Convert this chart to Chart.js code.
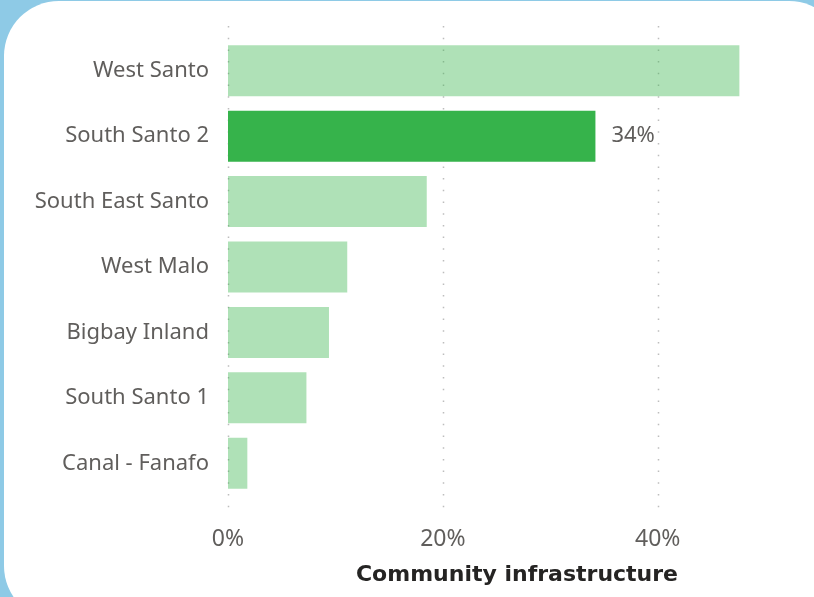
<!DOCTYPE html>
<html>
<head>
<meta charset="utf-8">
<script src="https://cdn.jsdelivr.net/npm/chart.js@4"></script>
<style>
  html, body { margin: 0; padding: 0; background: #8ecae6; overflow: hidden; }
  .card {
    position: absolute; left: 4px; top: 1px; width: 840px; height: 620px;
    background: #fff; border-radius: 55px;
  }
  #wrap { position: absolute; left: 0; top: 0; width: 814px; height: 597px; }
</style>
</head>
<body>
<div class="card"></div>
<div id="wrap"><canvas id="chart"></canvas></div>
<script>
var categories = ['West Santo', 'South Santo 2', 'South East Santo', 'West Malo', 'Bigbay Inland', 'South Santo 1', 'Canal - Fanafo'];
var values = [47.6, 34.2, 18.5, 11.1, 9.4, 7.3, 1.8];
var xTicks = [0, 20, 40];
var highlight = 'South Santo 2';
var highlightLabel = '34%';
var axisTitle = 'Community infrastructure';

var colors = categories.map(function(c) {
  return c === highlight ? '#36b34b' : 'rgba(54,179,75,0.4)';
});

// dotted vertical grid, a bit taller than the bars
var dotGrid = {
  id: 'dotGrid',
  beforeDatasetsDraw: function(chart) {
    var ctx = chart.ctx, x = chart.scales.x, area = chart.chartArea;
    ctx.save();
    ctx.strokeStyle = '#bdbdbd';
    ctx.lineWidth = 1.5;
    ctx.setLineDash([1.5, 10.2]);
    x.ticks.forEach(function(t) {
      var px = Math.round(x.getPixelForValue(t.value)) + 0.5;
      ctx.beginPath();
      ctx.moveTo(px, area.top - 12);
      ctx.lineTo(px, area.bottom + 20);
      ctx.stroke();
    });
    ctx.restore();
  }
};

// value label for the highlighted bar only
var barLabel = {
  id: 'barLabel',
  afterDatasetsDraw: function(chart) {
    var ctx = chart.ctx;
    var i = categories.indexOf(highlight);
    var bar = chart.getDatasetMeta(0).data[i];
    ctx.save();
    ctx.font = '22px "Noto Sans"';
    ctx.fillStyle = '#605e5c';
    ctx.textBaseline = 'middle';
    ctx.fillText(highlightLabel, bar.x + 16, bar.y);
    ctx.restore();
  }
};

new Chart(document.getElementById('chart'), {
  type: 'bar',
  data: {
    labels: categories,
    datasets: [{
      data: values,
      backgroundColor: colors,
      barPercentage: 0.78,
      categoryPercentage: 1
    }]
  },
  options: {
    indexAxis: 'y',
    responsive: true,
    maintainAspectRatio: false,
    animation: false,
    layout: { padding: { top: 38, right: 8, left: 0, bottom: 0 } },
    plugins: {
      legend: { display: false },
      tooltip: { enabled: false }
    },
    scales: {
      x: {
        min: 0,
        max: 53.8,
        grid: { display: false },
        border: { display: false },
        afterBuildTicks: function(s) {
          s.ticks = xTicks.map(function(v) { return { value: v }; });
        },
        ticks: {
          color: '#605e5c',
          padding: 22,
          font: { family: 'Noto Sans', size: 23 },
          callback: function(v) { return v + '%'; }
        },
        title: {
          display: true,
          text: axisTitle,
          color: '#252423',
          font: { family: 'DejaVu Sans', size: 22, weight: 'bold' },
          padding: { top: 0, bottom: 9 }
        },
        afterFit: function(s) { s.height = 101; }
      },
      y: {
        grid: { display: false },
        border: { display: false },
        ticks: {
          color: '#605e5c',
          padding: 11,
          font: { family: 'Noto Sans', size: 22 }
        },
        afterFit: function(s) { s.width = 228; }
      }
    }
  },
  plugins: [dotGrid, barLabel]
});
</script>
</body>
</html>
